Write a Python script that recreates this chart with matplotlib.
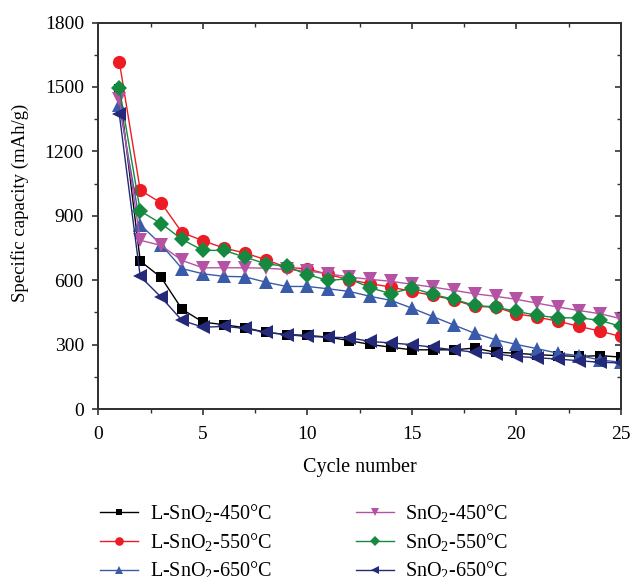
import numpy as np
import matplotlib
matplotlib.use("Agg")
import matplotlib.pyplot as plt
from matplotlib.ticker import MultipleLocator

plt.rcParams['font.family'] = ['Liberation Serif', 'DejaVu Serif']
plt.rcParams['mathtext.fontset'] = 'custom'
plt.rcParams['mathtext.rm'] = 'Liberation Serif'

# --- DATOS ---
ciclos = np.arange(1, 26)

l_450 = [1490, 689, 613, 465, 405, 393, 379, 358, 347, 343, 335, 319, 301,
         288, 276, 276, 276, 284, 265, 260, 253, 249, 245, 249, 242]
l_550 = [1617, 1019, 960, 822, 784, 750, 727, 696, 660, 653, 627, 602, 584,
         568, 548, 529, 509, 478, 475, 444, 428, 409, 385, 363, 338]
l_650 = [1415, 859, 766, 654, 630, 618, 616, 591, 571, 571, 560, 548, 525,
         506, 470, 431, 392, 353, 323, 301, 281, 260, 249, 229, 218]
s_450 = [1446, 786, 762, 692, 658, 658, 658, 656, 650, 643, 630, 615, 604,
         595, 581, 568, 553, 537, 525, 511, 493, 475, 459, 444, 421]
s_550 = [1496, 922, 864, 790, 739, 739, 708, 677, 664, 626, 599, 607, 565,
         537, 565, 534, 511, 483, 475, 455, 436, 425, 425, 413, 385]
s_650 = [1372, 618, 521, 413, 381, 385, 376, 357, 347, 338, 335, 332, 315,
         308, 300, 288, 276, 265, 257, 245, 239, 233, 225, 218, 215]

etiquetas = [r'L-SnO$_2$-450°C', r'L-SnO$_2$-550°C', r'L-SnO$_2$-650°C',
             r'SnO$_2$-450°C', r'SnO$_2$-550°C', r'SnO$_2$-650°C']
series = [l_450, l_550, l_650, s_450, s_550, s_650]
colores = ['#000000', '#ED1C24', '#3A5BAA', '#B452A4', '#14893F', '#25297A']
marcadores = ['s', 'o', '^', 'v', 'D', '<']
tamanos = [7, 9.5, 9.5, 9.5, 8, 9.5]

fig = plt.figure(figsize=(6.31, 5.77), dpi=100)
ax = fig.add_axes([0.156, 0.291, 0.828, 0.670])

for y, c, m, ms, lab in zip(series, colores, marcadores, tamanos, etiquetas):
    ax.plot(ciclos, y, color=c, marker=m, markersize=ms, linewidth=1.0,
            markeredgewidth=0, label=lab)

ax.set_xlim(0, 25)
ax.set_ylim(0, 1800)
ax.xaxis.set_major_locator(MultipleLocator(5))
ax.xaxis.set_minor_locator(MultipleLocator(2.5))
ax.yaxis.set_major_locator(MultipleLocator(300))
ax.yaxis.set_minor_locator(MultipleLocator(150))

ax.tick_params(which='both', direction='out', top=False, right=False,
               labelsize=14, color='#333333')
ax.tick_params(which='major', length=4.5, width=1.2)
ax.tick_params(which='minor', length=3, width=1.0)
ax.tick_params(axis='x', which='major', pad=7.5)
ax.tick_params(axis='y', which='major', pad=6)

# ticks hacia adentro en los ejes espejo
ax2 = ax.twinx()
ax2.set_ylim(0, 1800)
ax2.yaxis.set_major_locator(MultipleLocator(300))
ax2.yaxis.set_minor_locator(MultipleLocator(150))
ax2.tick_params(which='both', direction='in', labelright=False, color='#333333')
ax2.tick_params(which='major', length=4.5, width=1.2)
ax2.tick_params(which='minor', length=3, width=1.0)
ax3 = ax.twiny()
ax3.set_xlim(0, 25)
ax3.xaxis.set_major_locator(MultipleLocator(5))
ax3.xaxis.set_minor_locator(MultipleLocator(2.5))
ax3.tick_params(which='both', direction='in', labeltop=False, color='#333333')
ax3.tick_params(which='major', length=4.5, width=1.2)
ax3.tick_params(which='minor', length=3, width=1.0)

for a in (ax, ax2, ax3):
    for s in a.spines.values():
        s.set_linewidth(1.2)
        s.set_color('#333333')

ax.set_xlabel('Cycle number', fontsize=14.5, labelpad=11)
ax.set_ylabel('Specific capacity (mAh/g)', fontsize=13.5, va='center')
ax.yaxis.set_label_coords(-0.151, 0.533)

h, l = ax.get_legend_handles_labels()
fig.legend(h, l, loc='upper left', bbox_to_anchor=(0.146, 0.1435), ncol=2,
           frameon=False, fontsize=14.5, handlelength=1.9, columnspacing=4.2,
           labelspacing=0.33, handletextpad=0.55, borderaxespad=0,
           markerscale=0.65)

fig.savefig('out.png', dpi=100)
